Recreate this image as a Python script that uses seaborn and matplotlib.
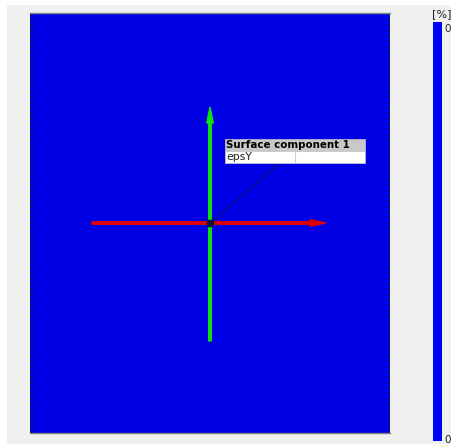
import numpy as np
import matplotlib
matplotlib.use("Agg")
import matplotlib.pyplot as plt
import seaborn as sns
from matplotlib.colors import ListedColormap
from matplotlib.patches import Rectangle, FancyArrow

sns.set_theme(style="white")
plt.rcParams["font.family"] = ["DejaVu Sans"]

# Field values (surface component 1, epsY in %) - uniform zero strain
n_cols = 36
n_rows = 42
eps_y_row = [0.0] * n_cols
eps_y = [eps_y_row for _ in range(n_rows)]

result_title = "Surface component 1"
result_name = "epsY"
unit_label = "[%]"
cbar_ticks = ["0", "0"]

field_color = "#0000e4"
scale_color = "#0000ff"

fig = plt.figure(figsize=(4.51, 4.44), dpi=100, facecolor="#f0f0f0")
# white margin strips at left/top
fig.patches.append(Rectangle((0, 0), 7 / 451, 1, transform=fig.transFigure,
                             facecolor="white", edgecolor="none", zorder=-1))
fig.patches.append(Rectangle((0, 1 - 5 / 444), 1, 5 / 444, transform=fig.transFigure,
                             facecolor="white", edgecolor="none", zorder=-1))

ax = fig.add_axes([30 / 451, 11 / 444, 360 / 451, 420 / 444])
data = np.array(eps_y)
sns.heatmap(data, ax=ax, cmap=ListedColormap([field_color]), cbar=False,
            xticklabels=False, yticklabels=False, vmin=-1, vmax=1)

for side in ["top", "bottom"]:
    ax.spines[side].set_visible(True)
    ax.spines[side].set_color("#808080")
    ax.spines[side].set_linewidth(1)
for side in ["left", "right"]:
    ax.spines[side].set_visible(False)
ax.axvline(0.1, color="#101060", lw=1.8, ls=(0, (1, 1.2)))
ax.axvline(n_cols - 0.1, color="#101060", lw=1.8, ls=(0, (1, 1.2)))

# coordinate triad at the field centre
cx, cy = n_cols / 2, n_rows / 2
ax_len = 11.8
ax.add_patch(FancyArrow(cx - ax_len, cy, 2 * ax_len - 0.2, 0, width=0.25,
                        head_width=0.65, head_length=1.6,
                        length_includes_head=True, color="#e00000", zorder=3))
ax.add_patch(FancyArrow(cx, cy + ax_len, 0, -(2 * ax_len - 0.2), width=0.25,
                        head_width=0.65, head_length=1.6,
                        length_includes_head=True, color="#10e010", zorder=3))
ax.plot([cx], [cy], marker="s", ms=5, color="#101040", zorder=4)

# leader line + label box
ax.plot([cx, 25.0], [cy, 15.0], color="#101060", lw=0.7, zorder=2)
bx0, bx1, bdiv = 19.5, 33.5, 26.5
ax.add_patch(Rectangle((bx0, 12.6), bx1 - bx0, 1.2, facecolor="#c8c8c8",
                       edgecolor="#c8c8c8", lw=0.5, zorder=5))
ax.add_patch(Rectangle((bx0, 13.8), bx1 - bx0, 1.2, facecolor="white",
                       edgecolor="#c8c8c8", lw=0.5, zorder=5))
ax.plot([bdiv, bdiv], [13.85, 14.95], color="#d0d0d0", lw=0.8, zorder=6)
ax.text(bx0 + 0.1, 13.22, result_title, fontsize=7.4, fontweight="bold",
        va="center", ha="left", color="black", zorder=6)
ax.text(bx0 + 0.1, 14.42, result_name, fontsize=7.8, va="center", ha="left",
        color="#202020", zorder=6)

# colour scale
cax = fig.add_axes([433 / 451, 3 / 444, 9 / 451, 419 / 444])
cax.set_facecolor(scale_color)
cax.set_xlim(0, 1)
cax.set_ylim(0, 1)
cax.set_xticks([])
cax.yaxis.tick_right()
cax.set_yticks([0.005, 0.985])
cax.set_yticklabels(cbar_ticks, fontsize=7.5)
cax.tick_params(axis="y", length=0, pad=1.5)
for s in cax.spines.values():
    s.set_visible(False)
fig.text(442 / 451, 1 - 14 / 444, unit_label, fontsize=8, ha="center",
         va="center", color="#202020")

fig.savefig("out.png", dpi=100, facecolor=fig.get_facecolor())
